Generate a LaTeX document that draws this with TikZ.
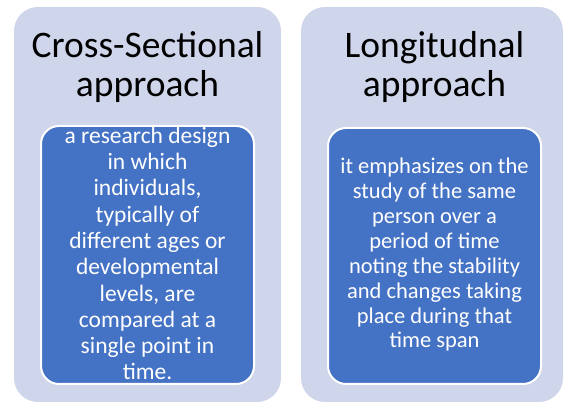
\documentclass[tikz,border=0pt]{standalone}
\usepackage{fontspec}
\setmainfont{Carlito}
\begin{document}
\begin{tikzpicture}[x=1pt,y=1pt,
  panel/.style={fill=panelfill, draw=none, rounded corners=24pt},
  card/.style={fill=cardblue, draw=white, line width=2pt, rounded corners=18pt},
  heading/.style={align=center, font=\fontsize{37.5}{38.5}\selectfont, text=black, inner sep=0pt, anchor=base},
  cardtext/.style={align=center, text=white, inner sep=0pt, anchor=base}]
\definecolor{panelfill}{HTML}{CFD5EA}
\definecolor{cardblue}{HTML}{4472C4}
\useasboundingbox (0,0) rectangle (564,403);
% background panels
\path[panel] (14,1) rectangle (281,396);
\path[panel] (301,1) rectangle (563,396);
% inner cards
\path[card] (41,19) rectangle (254,277);
\path[card] (328,19) rectangle (541,275);
% headings (anchored on the baseline of their last line)
\node[heading] (hl) at (147.5,306.5) {Cross-Sectional\\approach};
\node[heading] (hr) at (434.5,306.5) {Longitudnal\\approach};
% card texts
\node[cardtext, font=\fontsize{23.5}{26.3}\selectfont] (tl) at (147.5,23)
  {a research design\\in which\\individuals,\\typically of\\different ages or\\developmental\\levels, are\\compared at a\\single point in\\time.};
\node[cardtext, font=\fontsize{22.5}{24.9}\selectfont] (tr) at (434.5,55)
  {it emphasizes on the\\study of the same\\person over a\\period of time\\noting the stability\\and changes taking\\place during that\\time span};
\end{tikzpicture}
\end{document}
